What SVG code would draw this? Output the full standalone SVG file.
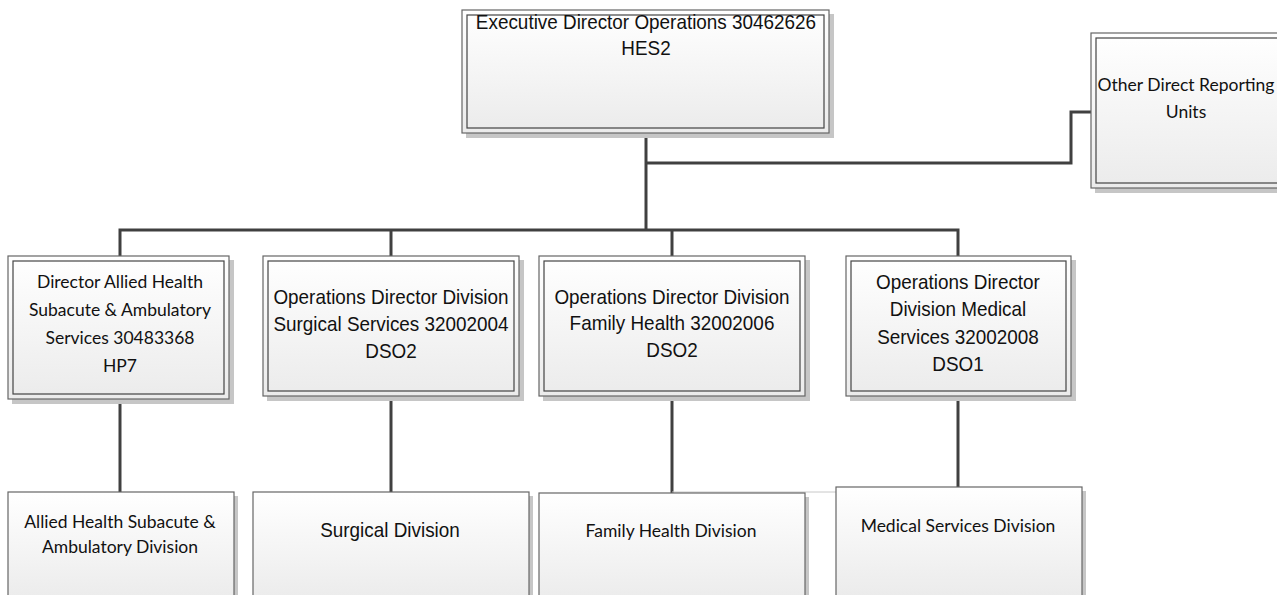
<svg xmlns="http://www.w3.org/2000/svg" width="1277" height="595" viewBox="0 0 1277 595">
<defs>
<linearGradient id="g" x1="0" y1="0" x2="0" y2="1">
<stop offset="0" stop-color="#ffffff"/>
<stop offset="1" stop-color="#ebebeb"/>
</linearGradient>
<style>
.sh{fill:#c6c6c6;}
.out{fill:url(#g);stroke:#666;stroke-width:1.2;}
.in{fill:none;stroke:#444;stroke-width:1.2;}
.conn{fill:none;stroke:#404040;stroke-width:3;}
.thin{fill:none;stroke:#c8c8c8;stroke-width:1;}
.a{font-family:"Liberation Sans",Arial,sans-serif;font-size:21px;fill:#111;text-anchor:middle;}
.c{font-family:Lato,"Open Sans",sans-serif;font-size:17.5px;fill:#111;text-anchor:middle;}
</style>
</defs>
<rect width="1277" height="595" fill="#fff"/>
<g id="connectors">
<path class="conn" d="M646 133V230"/>
<path class="conn" d="M646 163H1071V112H1091"/>
<path class="conn" d="M120 256V230H958V256"/>
<path class="conn" d="M391 230V256"/>
<path class="conn" d="M672 230V256"/>
<path class="conn" d="M120 400V492"/>
<path class="conn" d="M391 396V492"/>
<path class="conn" d="M672 396V493"/>
<path class="conn" d="M958 396V487"/>
<path class="thin" d="M672 492H836"/>
</g>
<g id="exec">
<rect class="sh" x="466" y="14" width="368" height="124"/>
<rect class="out" x="462" y="10" width="367" height="123"/>
<rect class="in" x="467" y="15" width="357" height="113"/>
<text class="a" transform="translate(646,29) scale(0.9,1)">Executive Director Operations 30462626</text>
<text class="a" transform="translate(646,55) scale(0.9,1)">HES2</text>
</g>
<g id="other">
<rect class="sh" x="1095" y="37" width="190" height="156"/>
<rect class="out" x="1091" y="33" width="200" height="155"/>
<rect class="in" x="1096" y="38" width="190" height="145"/>
<text class="c" x="1186" y="91">Other Direct Reporting</text>
<text class="c" x="1186" y="118">Units</text>
</g>
<g id="allied">
<rect class="sh" x="12" y="260" width="222" height="144"/>
<rect class="out" x="8" y="256" width="221" height="143"/>
<rect class="in" x="13" y="261" width="211" height="133"/>
<text class="c" x="120" y="288">Director Allied Health</text>
<text class="c" x="120" y="316">Subacute &amp; Ambulatory</text>
<text class="c" x="120" y="344">Services 30483368</text>
<text class="c" x="120" y="372">HP7</text>
</g>
<g id="surgical">
<rect class="sh" x="267" y="260" width="257" height="141"/>
<rect class="out" x="263" y="256" width="256" height="140"/>
<rect class="in" x="268" y="261" width="246" height="130"/>
<text class="a" transform="translate(391,304) scale(0.9,1)">Operations Director Division</text>
<text class="a" transform="translate(391,331) scale(0.9,1)">Surgical Services 32002004</text>
<text class="a" transform="translate(391,358) scale(0.9,1)">DSO2</text>
</g>
<g id="family">
<rect class="sh" x="543" y="260" width="267" height="141"/>
<rect class="out" x="539" y="256" width="266" height="140"/>
<rect class="in" x="544" y="261" width="256" height="130"/>
<text class="a" transform="translate(672,304) scale(0.9,1)">Operations Director Division</text>
<text class="a" transform="translate(672,330) scale(0.9,1)">Family Health 32002006</text>
<text class="a" transform="translate(672,357) scale(0.9,1)">DSO2</text>
</g>
<g id="medical">
<rect class="sh" x="850" y="260" width="226" height="141"/>
<rect class="out" x="846" y="256" width="225" height="140"/>
<rect class="in" x="851" y="261" width="215" height="130"/>
<text class="a" transform="translate(958,289) scale(0.9,1)">Operations Director</text>
<text class="a" transform="translate(958,316) scale(0.9,1)">Division Medical</text>
<text class="a" transform="translate(958,344) scale(0.9,1)">Services 32002008</text>
<text class="a" transform="translate(958,371) scale(0.9,1)">DSO1</text>
</g>
<g id="allied-div">
<rect class="sh" x="12" y="496" width="226" height="110"/>
<rect class="out" x="8" y="492" width="226" height="110"/>
<text class="c" x="120" y="528">Allied Health Subacute &amp;</text>
<text class="c" x="120" y="553">Ambulatory Division</text>
</g>
<g id="surgical-div">
<rect class="sh" x="257" y="496" width="276" height="110"/>
<rect class="out" x="253" y="492" width="276" height="110"/>
<text class="a" transform="translate(390,537) scale(0.9,1)">Surgical Division</text>
</g>
<g id="family-div">
<rect class="sh" x="543" y="497" width="266" height="110"/>
<rect class="out" x="539" y="493" width="266" height="110"/>
<text class="c" x="671" y="537">Family Health Division</text>
</g>
<g id="medical-div">
<rect class="sh" x="840" y="491" width="246" height="110"/>
<rect class="out" x="836" y="487" width="246" height="110"/>
<text class="c" x="958" y="532">Medical Services Division</text>
</g>
</svg>
